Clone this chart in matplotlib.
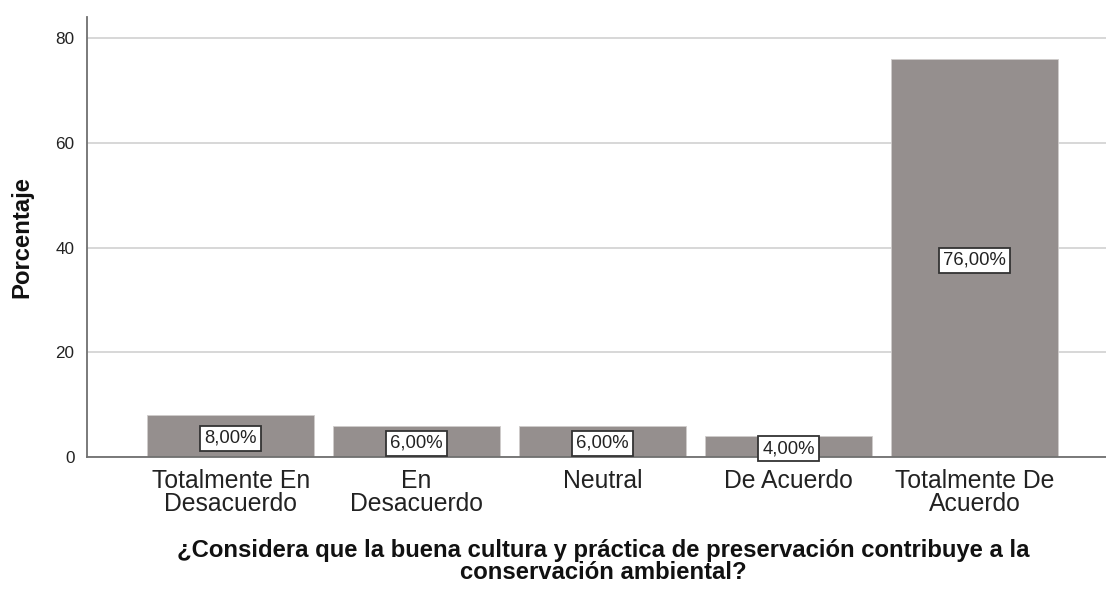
import matplotlib
matplotlib.use("Agg")
import matplotlib.pyplot as plt
import numpy as np

plt.rcParams['font.family'] = ['Liberation Sans', 'DejaVu Sans']

categorias = ['Totalmente En\nDesacuerdo', 'En\nDesacuerdo', 'Neutral', 'De Acuerdo', 'Totalmente De\nAcuerdo']
porcentajes = [8.0, 6.0, 6.0, 4.0, 76.0]
etiquetas = ['8,00%', '6,00%', '6,00%', '4,00%', '76,00%']
yticks = [0, 20, 40, 60, 80]

W, H = 1106, 589
fig = plt.figure(figsize=(W / 100, H / 100), dpi=100)
ax = fig.add_axes([87 / W, 1 - 457 / H, (W - 87) / W, (457 - 17) / H])

x = np.arange(len(categorias))
ax.bar(x, porcentajes, width=0.9, color='#958f8e', edgecolor='#d0cccb', linewidth=0.6, zorder=2)

# etiquetas de valor en cajas blancas a media altura de cada barra
for xi, v, t in zip(x, porcentajes, etiquetas):
    ax.text(xi, v / 2 - 0.4, t, ha='center', va='center', fontsize=13.3, color='#222222', zorder=3,
            bbox=dict(boxstyle='square,pad=0.22', facecolor='white', edgecolor='#333333', linewidth=1.3))

ax.set_xlim(-0.773, 4.707)
ax.set_ylim(0, 84.1)
ax.set_yticks(yticks)
ax.set_yticklabels([str(v) for v in yticks], fontsize=12.3, color='#222222')
ax.set_xticks(x)
ax.set_xticklabels(categorias, fontsize=17.8, color='#222222', linespacing=0.9)
ax.tick_params(axis='both', length=0)
ax.tick_params(axis='y', pad=9)
ax.tick_params(axis='x', pad=9)

ax.yaxis.grid(True, color='#d4d4d4', linewidth=1.3, zorder=0)
ax.set_axisbelow(True)
for s in ['top', 'right']:
    ax.spines[s].set_visible(False)
for s in ['left', 'bottom']:
    ax.spines[s].set_color('#707070')
    ax.spines[s].set_linewidth(1.3)

ax.set_ylabel('Porcentaje', fontsize=17.2, fontweight='bold', color='#111111')
ax.yaxis.set_label_coords(-0.053, 0.5)

fig.text(603 / W, 1 - 539 / H,
         '¿Considera que la buena cultura y práctica de preservación contribuye a la\nconservación ambiental?',
         ha='center', va='top', fontsize=17.2, fontweight='bold', color='#111111',
         linespacing=0.93, multialignment='center')

fig.savefig('out.png', dpi=100)
